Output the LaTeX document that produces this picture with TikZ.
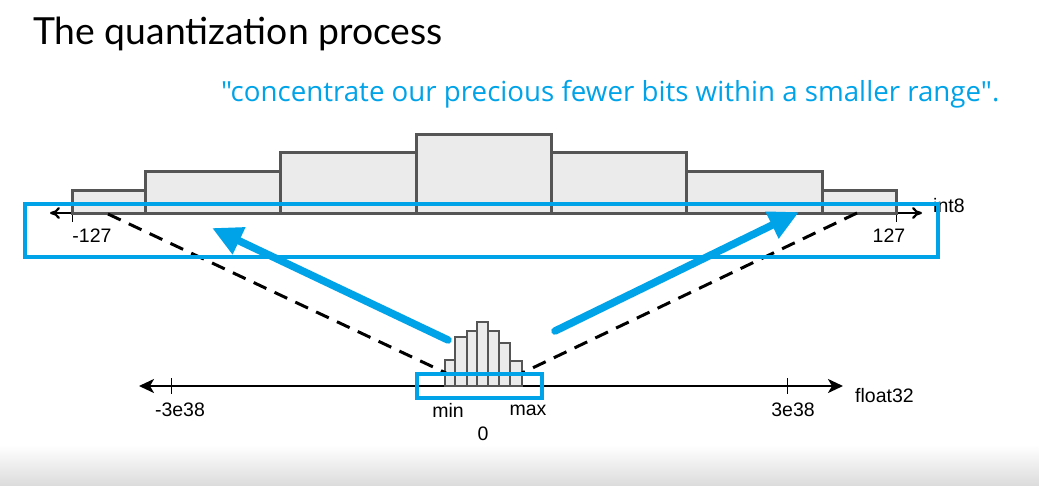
\documentclass[tikz,border=0pt]{standalone}
\usepackage{fontspec}
\setmainfont{Liberation Sans}
\newfontfamily\titlefont{Lato}
\newfontfamily\quotefont{Open Sans}
\usetikzlibrary{arrows.meta}
\definecolor{qblue}{HTML}{00A3E8}
\definecolor{bargray}{HTML}{555555}
\definecolor{barfill}{HTML}{EBEBEB}
\definecolor{shadegray}{HTML}{DCDCDC}
\begin{document}
\begin{tikzpicture}[x=1pt,y=-1pt,
  bar/.style={draw=bargray,fill=barfill,line width=3pt},
  sbar/.style={draw=bargray,fill=barfill,line width=2.4pt},
  axisline/.style={draw=black,line width=2.2pt},
  tickline/.style={draw=black,line width=1pt},
  lbl/.style={font=\fontsize{19.5}{22}\selectfont,inner sep=0pt},
  hl/.style={draw=qblue,line width=4.5pt},
  bigarrow/.style={draw=qblue,line width=7.5pt,-{Triangle[length=30pt,width=28pt]}},
  dashline/.style={draw=black,line width=3pt,dash pattern=on 14pt off 9pt}]
\useasboundingbox (0,0) rectangle (1039,485);
% bottom shading
\shade[top color=white,bottom color=shadegray] (0,445) rectangle (1039,485);
% title and quote
\node[anchor=base west,inner sep=0pt,font=\titlefont\fontsize{37.3}{42}\selectfont] (title) at (33,44) {The quantization process};
\node[anchor=base west,inner sep=0pt,text=qblue,font=\quotefont\fontsize{27.7}{32}\selectfont] (quote) at (221,101) {"concentrate our precious fewer bits within a smaller range".};
% int8 axis
\coordinate (i8L) at (50,213);
\coordinate (i8R) at (922,213);
\coordinate (tL) at (72,213);
\coordinate (tR) at (896,213);
\draw[axisline,-{To[length=10pt,width=12pt]}] (tL) -- (i8L);
\draw[axisline,-{To[length=10pt,width=12pt]}] (tR) -- (i8R);
\draw[tickline] (tL) -- ++(0,9);
\draw[tickline] (tR) -- ++(0,9);
% top histogram
\draw[bar] (72,213) rectangle (145,190.7);
\draw[bar] (145,213) rectangle (280,171.7);
\draw[bar] (280,213) rectangle (416,152.7);
\draw[bar] (416,213) rectangle (551.7,134);
\draw[bar] (551.7,213) rectangle (686.7,152.7);
\draw[bar] (686.7,213) rectangle (822,171.7);
\draw[bar] (822,213) rectangle (896,190.7);
\node[lbl] (m127) at (92,236) {-127};
\node[lbl] (p127) at (889,236) {127};
\node[lbl,anchor=west] (int8) at (933,206) {int8};
% float32 axis
\coordinate (fL) at (139,386);
\coordinate (fR) at (843,386);
\draw[axisline,{Stealth[length=15pt,width=14pt,inset=4pt]}-{Stealth[length=15pt,width=14pt,inset=4pt]}] (fL) -- (fR);
\coordinate (ftL) at (171,378);
\coordinate (ftR) at (787,378);
\draw[tickline] (ftL) -- ++(0,16);
\draw[tickline] (ftR) -- ++(0,16);
% small histogram
\draw[sbar] (445,386) rectangle (455,360);
\draw[sbar] (455,386) rectangle (467,337);
\draw[sbar] (467,386) rectangle (477,331);
\draw[sbar] (477,386) rectangle (488,322);
\draw[sbar] (488,386) rectangle (499,331);
\draw[sbar] (499,386) rectangle (510,343);
\draw[sbar] (510,386) rectangle (522,361);
\node[lbl] (m38) at (180,410) {-3e38};
\node[lbl] (p38) at (793,410) {3e38};
\node[lbl,anchor=west] (f32) at (855,396) {float32};
\node[lbl] (minl) at (448,410) {min};
\node[lbl] (maxl) at (528,410) {max};
\node[lbl] (zero) at (483,434) {0};
% mapping dashed lines
\coordinate (dminA) at (108,214);
\coordinate (dminB) at (446,373);
\coordinate (dmaxA) at (857,213);
\coordinate (dmaxB) at (522,373);
\draw[dashline] (dminA) -- (dminB);
\draw[dashline] (dmaxA) -- (dmaxB);
% highlight boxes
\draw[hl] (25,204) rectangle (938,257);
\draw[hl] (417,374) rectangle (542,398);
% arrows
\coordinate (aLs) at (448,340);
\coordinate (aLe) at (212,228);
\coordinate (aRs) at (555,331);
\coordinate (aRe) at (799,212);
\draw[bigarrow,line cap=round] (aLs) -- (aLe);
\draw[bigarrow,line cap=round] (aRs) -- (aRe);
\end{tikzpicture}
\end{document}
